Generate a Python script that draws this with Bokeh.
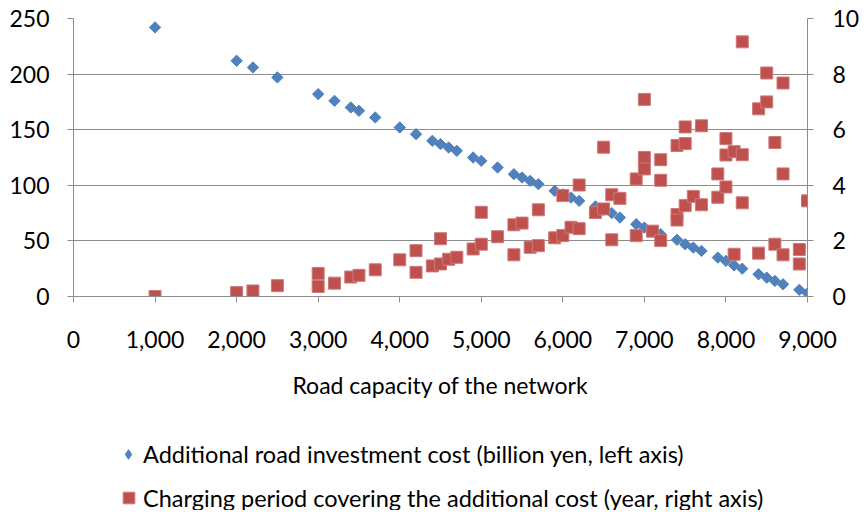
import math
from bokeh.plotting import figure
from bokeh.layouts import column
from bokeh.models import (Range1d, LinearAxis, FixedTicker, NumeralTickFormatter,
                          Legend, LegendItem, ColumnDataSource)
from bokeh.embed import file_html
from bokeh.resources import INLINE

# ---- data ----
cost_capacity = [1000, 2000, 2200, 2500, 3000, 3200, 3400, 3500, 3700, 4000,
                 4200, 4400, 4500, 4600, 4700, 4900, 5000, 5200, 5400, 5500,
                 5600, 5700, 5900, 6000, 6100, 6200, 6400, 6500, 6600, 6700,
                 6900, 7000, 7100, 7200, 7400, 7500, 7600, 7700, 7900, 8000,
                 8100, 8200, 8400, 8500, 8600, 8700, 8900, 9000]
investment_cost = [242, 212, 206, 197, 182, 176, 170, 167, 161, 152,
                   146, 140, 137, 134, 131, 125, 122, 116, 110, 107,
                   104, 101, 95, 92, 89, 86, 81, 78, 75, 71,
                   65, 62, 59, 56, 51, 47, 44, 41, 35, 32,
                   28, 25, 20, 17, 14, 11, 6, 3]

period_capacity = [1000, 2000, 2200, 2500, 3000, 3000, 3200, 3400, 3500, 3700, 4000,
                   4200, 4200, 4400, 4500, 4500, 4600, 4700, 4900, 5000, 5000, 5200,
                   5400, 5400, 5500, 5600, 5700, 5700, 5900, 6000, 6000, 6100, 6200, 6200,
                   6400, 6500, 6500, 6600, 6600, 6700, 6900, 6900, 7000, 7000, 7000, 7100,
                   7200, 7200, 7200,
                   7400, 7400, 7400, 7500, 7500, 7500, 7600, 7700, 7700, 7900, 7900,
                   8000, 8000, 8000, 8100, 8100, 8200, 8200, 8200,
                   8400, 8400, 8500, 8500, 8600, 8600, 8700, 8700, 8700, 8900, 8900, 9000]
charging_years = [0.0, 0.14, 0.2, 0.39, 0.83, 0.36, 0.48, 0.70, 0.76, 0.96, 1.32,
                  1.65, 0.87, 1.10, 2.08, 1.17, 1.34, 1.41, 1.71, 3.03, 1.88, 2.15,
                  2.58, 1.50, 2.64, 1.77, 3.12, 1.83, 2.11, 3.63, 2.19, 2.49, 4.01, 2.44,
                  3.02, 5.37, 3.15, 3.66, 2.04, 3.53, 4.23, 2.19, 7.09, 5.0, 4.59, 2.35,
                  4.92, 4.18, 2.01,
                  5.43, 2.95, 2.75, 6.1, 5.5, 3.27, 3.6, 6.14, 3.3, 4.41, 3.57,
                  5.68, 5.09, 3.94, 5.21, 1.52, 9.16, 5.1, 3.37,
                  6.75, 1.56, 8.04, 7.0, 5.54, 1.88, 7.68, 4.41, 1.5, 1.69, 1.17, 3.44]

x_ticks = [0, 1000, 2000, 3000, 4000, 5000, 6000, 7000, 8000, 9000]
left_ticks = [0, 50, 100, 150, 200, 250]
right_ticks = [0, 2, 4, 6, 8, 10]

x_title = "Road capacity of the network"
label_cost = "Additional road investment cost (billion yen, left axis)"
label_period = "Charging period covering the additional cost (year, right axis)"

# ---- styling ----
FONT = "Lato"
TICK_FS = "23px"
TITLE_FS = "23px"
LEG_FS = "23.5px"
GRID = "#8c8c8c"
BLUE = "#4F81BD"
RED = "#C0504D"

W, H_MAIN, H_LEG = 862, 410, 100

p = figure(width=W, height=H_MAIN, x_range=Range1d(0, 9000), y_range=Range1d(0, 250),
           output_backend="svg", toolbar_location=None,
           min_border_left=73, min_border_right=W - 812, min_border_top=18,
           min_border_bottom=H_MAIN - 296)
p.outline_line_color = None
p.background_fill_color = "white"
p.border_fill_color = "white"
p.xgrid.visible = False
p.ygrid.ticker = FixedTicker(ticks=left_ticks)
p.ygrid.grid_line_color = GRID
p.ygrid.grid_line_width = 1

p.extra_y_ranges = {"right": Range1d(0, 10)}

# x axis
xa = p.xaxis[0]
xa.ticker = FixedTicker(ticks=x_ticks)
xa.formatter = NumeralTickFormatter(format="0,0")
xa.axis_line_color = GRID
xa.major_tick_line_color = GRID
xa.major_tick_out = 6
xa.major_tick_in = 0
xa.minor_tick_line_color = None
xa.major_label_standoff = 28
xa.major_label_text_font = FONT
xa.major_label_text_font_size = TICK_FS
xa.major_label_text_color = "black"
xa.axis_label = x_title
xa.axis_label_text_font = FONT
xa.axis_label_text_font_size = TITLE_FS
xa.axis_label_text_font_style = "normal"
xa.axis_label_text_color = "black"
xa.axis_label_standoff = 20

# left axis
ya = p.yaxis[0]
ya.ticker = FixedTicker(ticks=left_ticks)
ya.axis_line_color = GRID
ya.major_tick_line_color = GRID
ya.major_tick_out = 6
ya.major_tick_in = 0
ya.minor_tick_line_color = None
ya.major_label_standoff = 18
ya.major_label_text_font = FONT
ya.major_label_text_font_size = TICK_FS
ya.major_label_text_color = "black"

# right axis
ra = LinearAxis(y_range_name="right", ticker=FixedTicker(ticks=right_ticks))
ra.axis_line_color = GRID
ra.major_tick_line_color = GRID
ra.major_tick_out = 6
ra.major_tick_in = 0
ra.minor_tick_line_color = None
ra.major_label_standoff = 19
ra.major_label_text_font = FONT
ra.major_label_text_font_size = TICK_FS
ra.major_label_text_color = "black"
p.add_layout(ra, "right")

src_cost = ColumnDataSource(dict(x=cost_capacity, y=investment_cost))
src_period = ColumnDataSource(dict(x=period_capacity, y=charging_years))

cost_style = dict(marker="square", angle=math.pi / 4, size=8,
                  fill_color=BLUE, line_color=BLUE, line_width=1)
period_style = dict(marker="square", size=12, fill_color=RED,
                    line_color="#cc7a78", line_width=1)

p.scatter("x", "y", source=src_cost, **cost_style)
p.scatter("x", "y", source=src_period, y_range_name="right", **period_style)

# ---- legend panel (separate figure below the chart) ----
pl = figure(width=W, height=H_LEG, x_range=Range1d(0, 1), y_range=Range1d(0, 1),
            output_backend="svg", toolbar_location=None,
            min_border_left=0, min_border_right=0, min_border_top=0, min_border_bottom=0)
pl.axis.visible = False
pl.grid.visible = False
pl.outline_line_color = None
pl.border_fill_color = "white"

# legend-only renderers, placed outside the visible range
lr_cost = pl.scatter(x=[-5], y=[-5], marker="diamond", size=10,
                     fill_color=BLUE, line_color=BLUE, line_width=1)
lr_period = pl.scatter(x=[-5], y=[-5], **period_style)

common = dict(orientation="vertical", padding=0, margin=0, spacing=0,
              label_text_font=FONT, label_text_font_size=LEG_FS,
              label_text_color="black", border_line_color=None,
              background_fill_alpha=0)
leg1 = Legend(items=[LegendItem(label=label_cost, renderers=[lr_cost])],
              location=(43, 42), glyph_width=24, glyph_height=24, label_standoff=3,
              **common)
leg2 = Legend(items=[LegendItem(label=label_period, renderers=[lr_period])],
              location=(41, -2), glyph_width=29, glyph_height=29, label_standoff=0,
              **common)
pl.add_layout(leg1, "center")
pl.add_layout(leg2, "center")

layout = column(p, pl, spacing=0)
open("out.html", "w").write(file_html(layout, INLINE))
